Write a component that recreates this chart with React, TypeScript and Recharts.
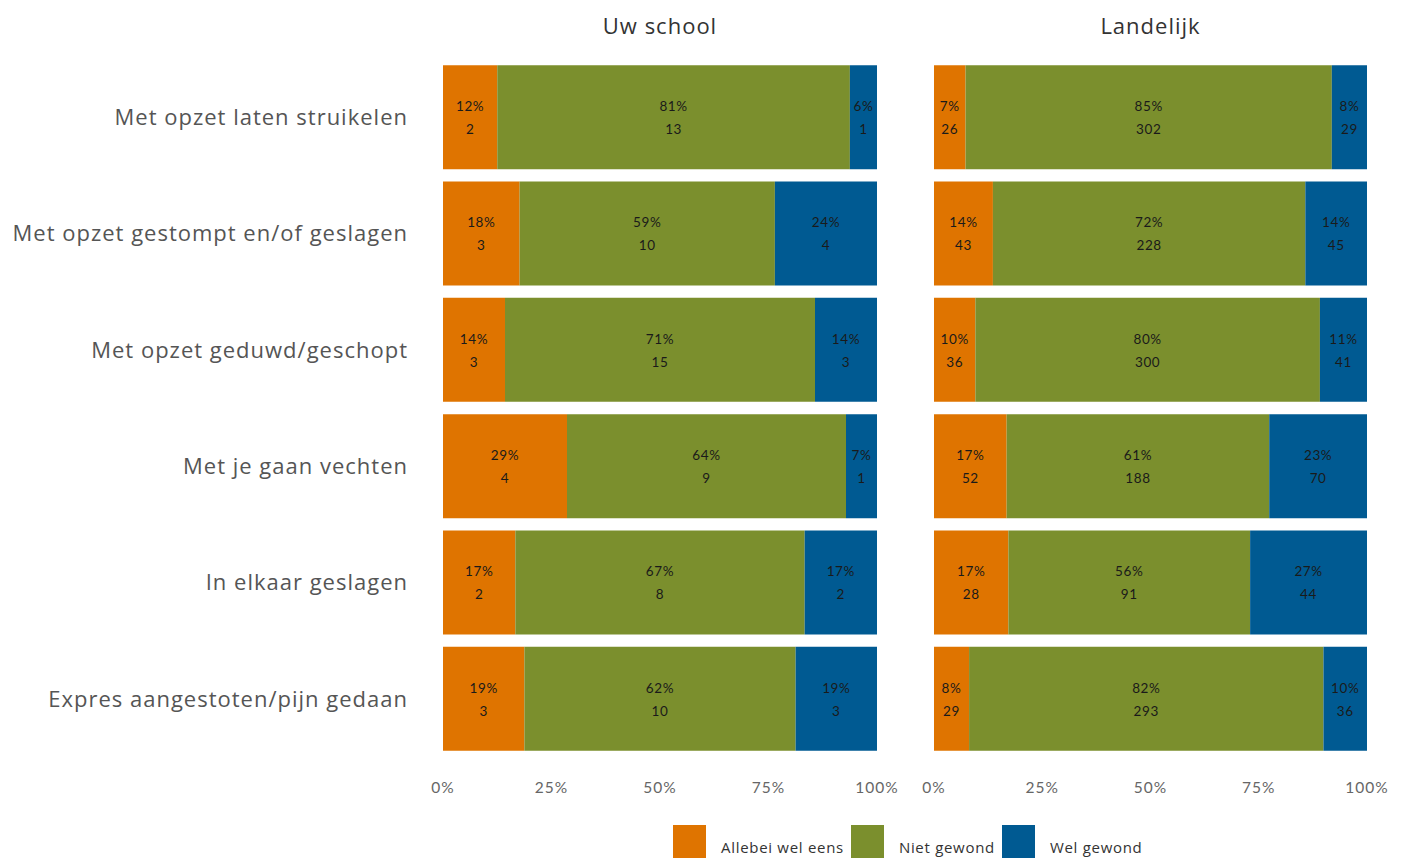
import React from "react";
import { BarChart, Bar, XAxis, YAxis, LabelList } from "recharts";

const categories = [
  "Met opzet laten struikelen",
  "Met opzet gestompt en/of geslagen",
  "Met opzet geduwd/geschopt",
  "Met je gaan vechten",
  "In elkaar geslagen",
  "Expres aangestoten/pijn gedaan",
];

const schoolAllebei = [2, 3, 3, 4, 2, 3];
const schoolNiet = [13, 10, 15, 9, 8, 10];
const schoolWel = [1, 4, 3, 1, 2, 3];
const schoolAllebeiPct = ["12%", "18%", "14%", "29%", "17%", "19%"];
const schoolNietPct = ["81%", "59%", "71%", "64%", "67%", "62%"];
const schoolWelPct = ["6%", "24%", "14%", "7%", "17%", "19%"];

const landAllebei = [26, 43, 36, 52, 28, 29];
const landNiet = [302, 228, 300, 188, 91, 293];
const landWel = [29, 45, 41, 70, 44, 36];
const landAllebeiPct = ["7%", "14%", "10%", "17%", "17%", "8%"];
const landNietPct = ["85%", "72%", "80%", "61%", "56%", "82%"];
const landWelPct = ["8%", "14%", "11%", "23%", "27%", "10%"];

const xTicks = [0, 0.25, 0.5, 0.75, 1];
const seriesNames = ["Allebei wel eens", "Niet gewond", "Wel gewond"];
const colors = ["#df7400", "#7b8f2d", "#005a92"];

const FONT = "'Open Sans', Lato, sans-serif";
const LABEL_FONT = "Lato, sans-serif";

const schoolData = categories.map((name, i) => ({
  name,
  allebei: schoolAllebei[i],
  niet: schoolNiet[i],
  wel: schoolWel[i],
}));

const landData = categories.map((name, i) => ({
  name,
  allebei: landAllebei[i],
  niet: landNiet[i],
  wel: landWel[i],
}));

// two-line label inside a segment: percentage on top, count below
const makeLabel = (pcts: string[], counts: number[]) =>
  // eslint-disable-next-line @typescript-eslint/no-explicit-any
  function SegLabel(props: any) {
    const vb = props.viewBox ?? props;
    const { x, y, width, height } = vb;
    const i = props.index;
    const cx = x + width / 2;
    const cy = y + height / 2;
    return (
      <g fontFamily={LABEL_FONT} fontSize={13.5} fill="#1a1a1a" letterSpacing={0.6}>
        <text x={cx} y={cy - 11} textAnchor="middle" dominantBaseline="central">
          {pcts[i]}
        </text>
        <text x={cx} y={cy + 12} textAnchor="middle" dominantBaseline="central">
          {counts[i]}
        </text>
      </g>
    );
  };

const pctFmt = (v: number) => `${Math.round(v * 100)}%`;

function Panel({
  data,
  pcts,
  counts,
  width,
  marginLeft,
  marginRight,
  showY,
}: {
  data: typeof schoolData;
  pcts: string[][];
  counts: number[][];
  width: number;
  marginLeft: number;
  marginRight: number;
  showY: boolean;
}) {
  const keys = ["allebei", "niet", "wel"];
  return (
    <BarChart
      width={width}
      height={800}
      data={data}
      layout="vertical"
      stackOffset="expand"
      barCategoryGap="5.3%"
      margin={{ top: 59, right: marginRight, bottom: 0, left: marginLeft }}
    >
      <XAxis
        type="number"
        domain={[0, 1]}
        ticks={xTicks}
        tickFormatter={pctFmt}
        axisLine={false}
        tickLine={false}
        tickMargin={19}
        height={43}
        interval={0}
        tick={{ fontSize: 15.5, fill: "#666", fontFamily: LABEL_FONT, letterSpacing: 1 }}
      />
      <YAxis
        type="category"
        dataKey="name"
        hide={!showY}
        width={showY ? 443 : 0}
        axisLine={false}
        tickLine={false}
        tickMargin={29}
        interval={0}
        tick={{ fontSize: 22, fill: "#555", fontFamily: FONT, letterSpacing: 1 }}
      />
      {keys.map((k, j) => (
        <Bar
          key={k}
          dataKey={k}
          name={seriesNames[j]}
          stackId="a"
          fill={colors[j]}
          isAnimationActive={false}
        >
          <LabelList dataKey={k} content={makeLabel(pcts[j], counts[j])} />
        </Bar>
      ))}
    </BarChart>
  );
}

export default function App() {
  return (
    <div
      style={{
        position: "absolute",
        left: 0,
        top: 0,
        width: 1406,
        height: 859,
        background: "#fff",
        fontFamily: FONT,
      }}
    >
      <div style={{ position: "absolute", left: 0, top: 0 }}>
        <Panel
          data={schoolData}
          pcts={[schoolAllebeiPct, schoolNietPct, schoolWelPct]}
          counts={[schoolAllebei, schoolNiet, schoolWel]}
          width={900}
          marginLeft={0}
          marginRight={23}
          showY
        />
      </div>
      <div style={{ position: "absolute", left: 900, top: 0 }}>
        <Panel
          data={landData}
          pcts={[landAllebeiPct, landNietPct, landWelPct]}
          counts={[landAllebei, landNiet, landWel]}
          width={506}
          marginLeft={34}
          marginRight={39}
          showY={false}
        />
      </div>
      <div
        style={{
          position: "absolute",
          left: 443,
          width: 434,
          top: 10,
          textAlign: "center",
          fontSize: 22,
          letterSpacing: 1,
          color: "#333",
        }}
      >
        Uw school
      </div>
      <div
        style={{
          position: "absolute",
          left: 934,
          width: 433,
          top: 10,
          textAlign: "center",
          fontSize: 22,
          letterSpacing: 1,
          color: "#333",
        }}
      >
        Landelijk
      </div>
      <div
        style={{
          position: "absolute",
          left: 673,
          top: 825,
          display: "flex",
          alignItems: "center",
          fontSize: 15,
          letterSpacing: 0.7,
          color: "#333",
        }}
      >
        {seriesNames.map((n, j) => (
          <div key={n} style={{ display: "flex", alignItems: "center", marginRight: 7 }}>
            <div style={{ width: 33, height: 33, background: colors[j] }} />
            <span style={{ marginLeft: 15, paddingTop: 10 }}>{n}</span>
          </div>
        ))}
      </div>
    </div>
  );
}
